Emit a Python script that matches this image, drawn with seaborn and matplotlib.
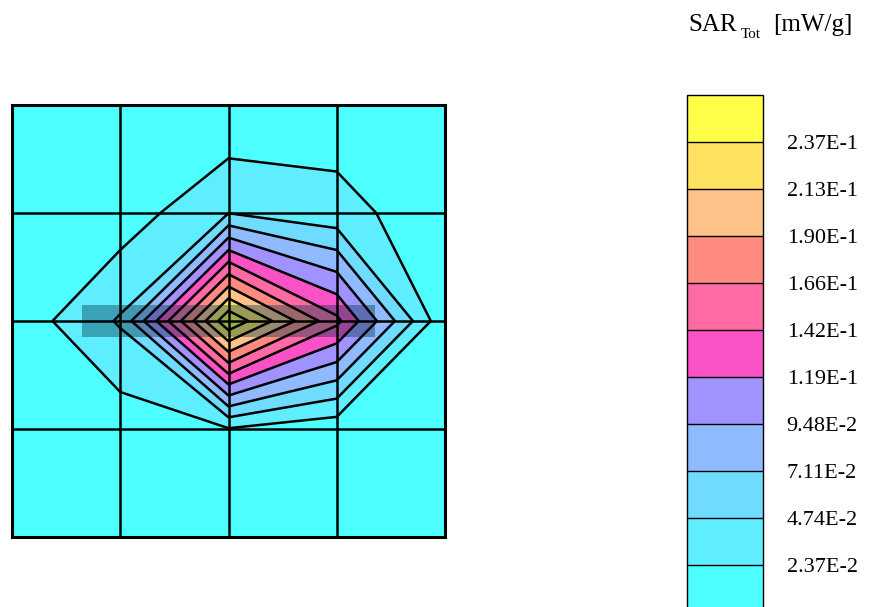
import numpy as np
import matplotlib
matplotlib.use("Agg")
import matplotlib.pyplot as plt
from matplotlib.colors import ListedColormap
from matplotlib.patches import Rectangle
import seaborn as sns

# SAR values at the 5x5 grid nodes (rows top to bottom, columns left to right), mW/g
row0 = [0.001, 0.002, 0.001, 0.012, 0.002]
row1 = [0.003, 0.010, 0.047, 0.031, 0.011]
row2 = [0.008, 0.050, 0.257, 0.148, 0.005]
row3 = [0.002, 0.010, 0.022, 0.008, 0.002]
row4 = [0.001, 0.001, 0.002, 0.001, 0.001]

# contour levels and their labels
level_values = [0.0237, 0.0474, 0.0711, 0.0948, 0.119, 0.142, 0.166, 0.190, 0.213, 0.237]
level_labels = ["2.37E-2", "4.74E-2", "7.11E-2", "9.48E-2", "1.19E-1",
                "1.42E-1", "1.66E-1", "1.90E-1", "2.13E-1", "2.37E-1"]
z_min, z_max = 0.0, 0.2607

band_colors = ["#4DFFFF", "#5EEEFF", "#6EDBFF", "#90BAFF", "#A093FF", "#F952C6",
               "#FF6AA5", "#FF8A80", "#FFC389", "#FFE360", "#FFFF4A"]

# feed / antenna strip drawn over the map (grid units)
strip_x = [0.647, 3.353]
strip_y = [1.85, 2.15]

sns.set_theme(style="white")
plt.rcParams["font.family"] = ["Liberation Serif", "DejaVu Serif"]
plt.rcParams["text.color"] = "black"
plt.rcParams["ytick.color"] = "black"
plt.rcParams["ytick.labelcolor"] = "black"

Z = np.array([row0, row1, row2, row3, row4])
ny, nx = Z.shape
X, Y = np.meshgrid(np.arange(nx), np.arange(ny))

W, H = 874, 607
fig = plt.figure(figsize=(W / 100, H / 100), dpi=100)
fig.patch.set_facecolor("white")

ax = fig.add_axes([12 / W, 1 - 537 / H, 433 / W, 432 / H])
levels = [z_min] + level_values + [z_max]
cmap = ListedColormap(sns.color_palette(band_colors))
cf = ax.contourf(X, Y, Z, levels=levels, cmap=cmap, zorder=1)
ax.add_patch(Rectangle((strip_x[0], strip_y[0]), strip_x[1] - strip_x[0],
                       strip_y[1] - strip_y[0], facecolor=(0.0, 0.20, 0.28),
                       edgecolor="none", alpha=0.40, zorder=2))
ax.contour(X, Y, Z, levels=level_values, colors="black", linewidths=1.8, zorder=3)

for k in range(1, nx - 1):
    ax.axvline(k, color="black", lw=1.8, zorder=4)
for k in range(1, ny - 1):
    ax.axhline(k, color="black", lw=1.8, zorder=4)

ax.set_xlim(0, nx - 1)
ax.set_ylim(ny - 1, 0)
ax.set_xticks([])
ax.set_yticks([])
for sp in ax.spines.values():
    sp.set_visible(True)
    sp.set_color("black")
    sp.set_linewidth(2.2)

# colour scale
cax = fig.add_axes([687 / W, (H - 612) / H, 76 / W, 517 / H])
cbar = fig.colorbar(cf, cax=cax, ticks=level_values, drawedges=True)
cbar.ax.set_yticklabels(level_labels)
cbar.ax.tick_params(length=0, pad=17, labelsize=16, labelcolor="black")
cbar.outline.set_edgecolor("black")
cbar.outline.set_linewidth(1.0)
cbar.dividers.set_color("black")
cbar.dividers.set_linewidth(1.0)

fig.text(688 / W, 1 - 31 / H, "SAR", fontsize=18, va="baseline", ha="left", color="black")
fig.text(741 / W, 1 - 38 / H, "Tot", fontsize=11, va="baseline", ha="left", color="black")
fig.text(773 / W, 1 - 31 / H, "[mW/g]", fontsize=18, va="baseline", ha="left", color="black")

fig.savefig("out.png", dpi=100, facecolor="white")
